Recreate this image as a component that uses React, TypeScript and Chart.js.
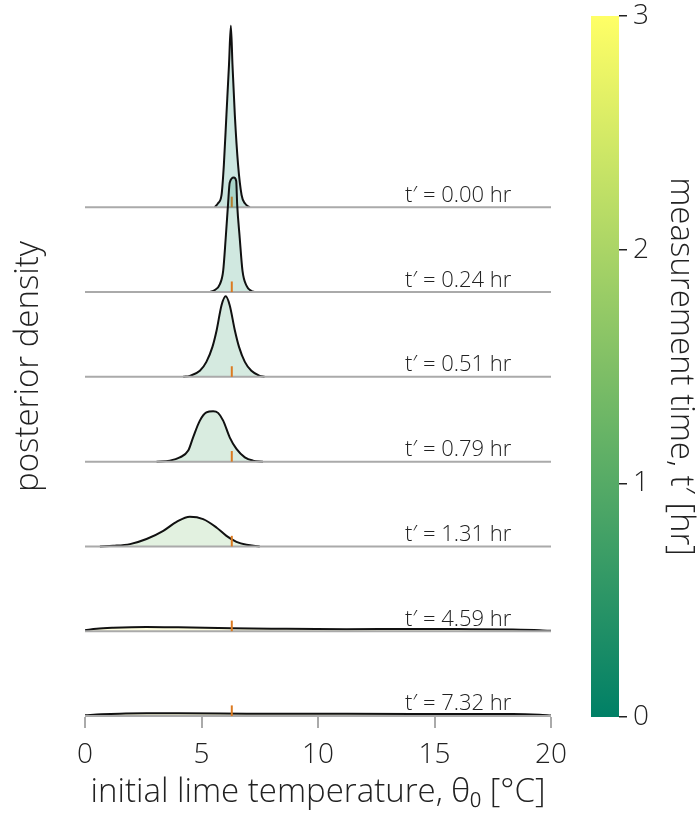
import React, { useEffect, useRef } from 'react';
import { Chart, registerables } from 'chart.js';

Chart.register(...registerables);

const FONT = "'Open Sans', 'Noto Sans', sans-serif";
const TEXT_COLOR = '#222222';

// measurement times (hr), one ridge per time
const measureTimes = [0.0, 0.24, 0.51, 0.79, 1.31, 4.59, 7.32];
const rowLabels = [
  't′ = 0.00 hr',
  't′ = 0.24 hr',
  't′ = 0.51 hr',
  't′ = 0.79 hr',
  't′ = 1.31 hr',
  't′ = 4.59 hr',
  't′ = 7.32 hr',
];
const trueTheta0 = 6.3;
const xTickStep = 5;
const colorbarMax = 3;

// posterior densities (scaled to ridge height units), theta0 [°C]
const row0Theta = [5.57, 5.71, 5.86, 5.96, 6.07, 6.18, 6.26, 6.33, 6.43, 6.57, 6.72, 6.86, 7.07];
const row0Dens = [0, 0.047, 0.145, 0.5, 1.09, 1.68, 2.14, 1.68, 1.09, 0.5, 0.145, 0.047, 0];

const row1Theta = [5.36, 5.57, 5.79, 5.93, 6.04, 6.14, 6.21, 6.39, 6.49, 6.53, 6.64, 6.76, 6.93, 7.14, 7.29];
const row1Dens = [0, 0.024, 0.094, 0.25, 0.64, 1.04, 1.29, 1.35, 1.31, 1.04, 0.64, 0.25, 0.075, 0.012, 0];

const row2Theta = [4.21, 4.5, 4.93, 5.21, 5.47, 5.65, 5.86, 6.04, 6.21, 6.43, 6.61, 6.86, 7.14, 7.5, 7.71];
const row2Dens = [0, 0.012, 0.071, 0.177, 0.354, 0.55, 0.845, 0.95, 0.845, 0.55, 0.354, 0.177, 0.071, 0.012, 0];

const row3Theta = [3.07, 3.64, 4.07, 4.43, 4.64, 4.93, 5.21, 5.5, 5.71, 5.93, 6.21, 6.5, 6.86, 7.21, 7.64];
const row3Dens = [0, 0.012, 0.05, 0.13, 0.287, 0.484, 0.58, 0.595, 0.575, 0.484, 0.287, 0.15, 0.05, 0.012, 0];

const row4Theta = [0.64, 1.21, 1.93, 2.64, 3.36, 3.93, 4.5, 5.07, 5.64, 6.07, 6.5, 6.93, 7.5];
const row4Dens = [0, 0.007, 0.027, 0.087, 0.184, 0.29, 0.35, 0.322, 0.224, 0.125, 0.054, 0.019, 0];

const row5Theta = [0, 0.5, 1.21, 2.0, 2.64, 4.0, 6.29, 8.0, 11.21, 14.07, 16.0, 18.36, 19.5, 20];
const row5Dens = [0.012, 0.028, 0.04, 0.048, 0.05, 0.046, 0.035, 0.03, 0.024, 0.027, 0.025, 0.02, 0.012, 0.004];

const row6Theta = [0, 0.7, 1.5, 2.64, 4.0, 6.93, 10.0, 14.07, 18.36, 19.5, 20];
const row6Dens = [0.008, 0.02, 0.028, 0.031, 0.031, 0.028, 0.026, 0.024, 0.024, 0.015, 0.005];

const thetaRows = [row0Theta, row1Theta, row2Theta, row3Theta, row4Theta, row5Theta, row6Theta];
const densRows = [row0Dens, row1Dens, row2Dens, row3Dens, row4Dens, row5Dens, row6Dens];

const markerHeight = 0.125;
const labelTheta = 18.3;

function summer(v: number): [number, number, number] {
  const c = Math.max(0, Math.min(1, v));
  return [Math.round(255 * c), Math.round(255 * (0.5 + 0.5 * c)), 102];
}

export default function App() {
  const ref = useRef<HTMLCanvasElement | null>(null);

  useEffect(() => {
    if (!ref.current) return;
    const nRows = measureTimes.length;
    const datasets: any[] = [];
    let k = 0;
    for (let i = 0; i < nRows; i++) {
      const b = nRows - 1 - i;
      const [r, g, bl] = summer(measureTimes[i] / colorbarMax);
      datasets.push({
        data: thetaRows[i].map((x, j) => ({ x, y: b + densRows[i][j] })),
        borderColor: '#111111',
        borderWidth: 2,
        backgroundColor: `rgba(${r},${g},${bl},0.2)`,
        fill: { value: b },
        pointRadius: 0,
        cubicInterpolationMode: 'monotone',
        order: 1000 - k++,
      });
      datasets.push({
        data: [
          { x: 0, y: b },
          { x: 20, y: b },
        ],
        borderColor: '#aaaaaa',
        borderWidth: 2,
        pointRadius: 0,
        fill: false,
        order: 1000 - k++,
      });
      datasets.push({
        data: [
          { x: trueTheta0, y: b },
          { x: trueTheta0, y: b + markerHeight },
        ],
        borderColor: '#dc7a20',
        borderWidth: 2,
        pointRadius: 0,
        fill: false,
        order: 1000 - k++,
      });
    }

    const overlay = {
      id: 'overlay',
      afterDatasetsDraw(chart: any) {
        const { ctx } = chart;
        const x = chart.scales.x;
        const y = chart.scales.y;
        ctx.save();
        ctx.font = `300 22px ${FONT}`;
        ctx.fillStyle = TEXT_COLOR;
        ctx.textAlign = 'right';
        ctx.textBaseline = 'alphabetic';
        rowLabels.forEach((lab, i) => {
          const b = nRows - 1 - i;
          ctx.fillText(lab, x.getPixelForValue(labelTheta), y.getPixelForValue(b) - 5.5);
        });
        ctx.restore();
      },
      afterDraw(chart: any) {
        const { ctx } = chart;
        const cb = chart.scales.cbar;
        const top = cb.getPixelForValue(colorbarMax);
        const bottom = cb.getPixelForValue(0);
        const grad = ctx.createLinearGradient(0, bottom, 0, top);
        for (let s = 0; s <= 10; s++) {
          const [r, g, bl] = summer(s / 10);
          grad.addColorStop(s / 10, `rgb(${r},${g},${bl})`);
        }
        ctx.save();
        ctx.fillStyle = grad;
        ctx.fillRect(cb.left - 28, top, 28, bottom - top);
        ctx.restore();
      },
    };

    const chart = new Chart(ref.current, {
      type: 'line',
      data: { datasets },
      plugins: [overlay],
      options: {
        animation: false,
        responsive: false,
        devicePixelRatio: 1,
        layout: { padding: 0 },
        plugins: { legend: { display: false }, tooltip: { enabled: false } },
        scales: {
          x: {
            type: 'linear',
            min: 0,
            max: 20,
            ticks: {
              stepSize: xTickStep,
              font: { family: FONT, size: 28, weight: '300' },
              color: TEXT_COLOR,
              padding: 10,
            },
            grid: {
              drawOnChartArea: false,
              drawTicks: true,
              tickLength: 11,
              color: '#aaaaaa',
              lineWidth: 2,
            },
            border: { display: false },
            title: {
              display: true,
              text: 'initial lime temperature, θ₀ [°C]',
              font: { family: FONT, size: 33, weight: '300' },
              color: TEXT_COLOR,
              padding: { top: 0, bottom: 6 },
            },
            afterFit: (s: any) => {
              s.height = 101;
            },
          },
          y: {
            type: 'linear',
            position: 'left',
            min: -0.0118,
            max: 8.256,
            ticks: { display: false },
            grid: { display: false },
            border: { display: false },
            title: {
              display: true,
              text: 'posterior density',
              font: { family: FONT, size: 33, weight: '300' },
              color: TEXT_COLOR,
              padding: { top: 9, bottom: 0 },
            },
            afterFit: (s: any) => {
              s.width = 85;
            },
          },
          gap: {
            type: 'linear',
            position: 'right',
            weight: 0,
            ticks: { display: false },
            grid: { display: false },
            border: { display: false },
            afterFit: (s: any) => {
              s.width = 68;
            },
          },
          cbar: {
            type: 'linear',
            position: 'right',
            weight: 1,
            min: 0,
            max: colorbarMax,
            ticks: {
              stepSize: 1,
              font: { family: FONT, size: 28, lineHeight: 0.714, weight: '300' },
              color: TEXT_COLOR,
              padding: 6,
            },
            grid: {
              drawOnChartArea: false,
              drawTicks: true,
              tickLength: 8,
              color: '#222222',
              lineWidth: 1.5,
            },
            border: { display: false },
            title: {
              display: true,
              text: 'measurement time, t′ [hr]',
              font: { family: FONT, size: 33, weight: '300' },
              color: TEXT_COLOR,
              padding: { top: -3, bottom: 0 },
            },
            afterFit: (s: any) => {
              s.width = 78;
            },
          },
        },
      } as any,
    });
    return () => chart.destroy();
  }, []);

  return (
    <div style={{ position: 'absolute', left: 0, top: 0, width: 697, height: 818 }}>
      <canvas ref={ref} width={697} height={818} style={{ display: 'block' }} />
    </div>
  );
}
